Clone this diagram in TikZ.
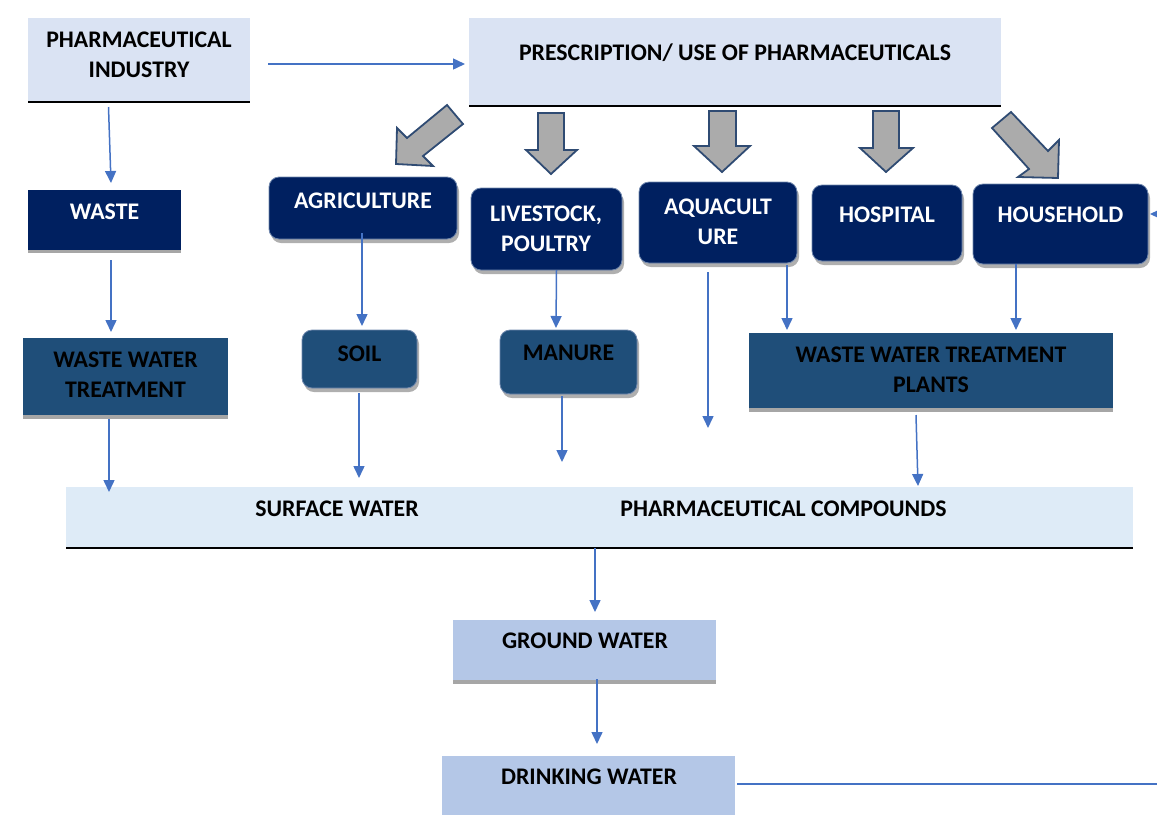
\documentclass[tikz,border=0pt]{standalone}
\usepackage{fontspec}
\setmainfont{Carlito}
\usetikzlibrary{calc,fit,shadows,arrows.meta}
\definecolor{navy}{HTML}{002060}
\definecolor{midblue}{HTML}{1F4E79}
\definecolor{paleblue}{HTML}{DAE3F3}
\definecolor{barblue}{HTML}{DEEBF7}
\definecolor{gwblue}{HTML}{B4C7E7}
\definecolor{connblue}{HTML}{4472C4}
\definecolor{arrgray}{HTML}{ABABAB}
\definecolor{arredge}{HTML}{2F4B73}
\definecolor{shadowgray}{HTML}{A6A6A6}
\definecolor{roundedge}{HTML}{6F87AD}
\begin{document}
\begin{tikzpicture}[x=0.5pt,y=-0.5pt,
  base/.style={inner sep=0pt, outer sep=0pt},
  lightrect/.style={base, fill=paleblue},
  barrect/.style={base, fill=barblue},
  navyrect/.style={base, fill=navy, drop shadow={shadow xshift=0pt, shadow yshift=-1.5pt, fill=shadowgray, opacity=1}},
  midrect/.style={base, fill=midblue, drop shadow={shadow xshift=0pt, shadow yshift=-2pt, fill=shadowgray, opacity=1}},
  gwrect/.style={base, fill=gwblue, drop shadow={shadow xshift=0pt, shadow yshift=-2pt, fill=shadowgray, opacity=1}},
  dwrect/.style={base, fill=gwblue},
  navyround/.style={base, fill=navy, rounded corners=5pt, draw=roundedge, line width=0.4pt, drop shadow={shadow xshift=1pt, shadow yshift=-2pt, fill=shadowgray, opacity=0.9}},
  midround/.style={base, fill=midblue, rounded corners=5pt, draw=roundedge, line width=0.4pt, drop shadow={shadow xshift=1pt, shadow yshift=-2pt, fill=shadowgray, opacity=0.9}},
  botline/.style={draw=black, line width=1pt},
  txtk/.style={inner sep=0pt, align=center, font=\fontsize{11.9}{15}\selectfont\bfseries, text=black},
  txtw/.style={txtk, text=white},
  conn/.style={draw=connblue, line width=0.75pt, -{Triangle[length=6pt,width=5.5pt]}},
  plainconn/.style={draw=connblue, line width=0.75pt},
  blockarrow/.style={fill=arrgray, draw=arredge, line width=0.9pt, line join=miter}
]
\useasboundingbox (0,0) rectangle (1157,815);

% --- boxes ---
\node[lightrect, fit={(28,18)(250,102)}] (ind) {};
\draw[botline] (ind.south west) -- (ind.south east);
\node[txtk] (tind) at (139,55) {PHARMACEUTICAL\\INDUSTRY};

\node[lightrect, fit={(469,18)(1001,106)}] (presc) {};
\draw[botline] (presc.south west) -- (presc.south east);
\node[txtk] (tpresc) at (735,53) {PRESCRIPTION/ USE OF PHARMACEUTICALS};

\node[navyrect, fit={(28,190)(181,250)}] (waste) {};
\node[txtw] (twaste) at (104.5,212) {WASTE};

\node[midrect, fit={(23,338)(228,415)}] (wwt) {};
\node[txtk] (twwt) at (125.5,375) {WASTE WATER\\TREATMENT};

\node[navyround, fit={(269,177)(457,239)}] (agri) {};
\node[txtw] (tagri) at (363,201) {AGRICULTURE};

\node[navyround, fit={(471,188)(622,270)}] (liv) {};
\node[txtw] (tliv) at (546,229) {LIVESTOCK,\\POULTRY};

\node[navyround, fit={(639,182)(797,263)}] (aqua) {};
\node[txtw] (taqua) at (718,222) {AQUACULT\\URE};

\node[navyround, fit={(812,185)(962,261)}] (hosp) {};
\node[txtw] (thosp) at (887,215) {HOSPITAL};

\node[navyround, fit={(973,184)(1148,264)}] (house) {};
\node[txtw] (thouse) at (1060.5,215) {HOUSEHOLD};

\node[midround, fit={(302,330)(417,388)}] (soil) {};
\node[txtk] (tsoil) at (359.5,354) {SOIL};

\node[midround, fit={(500,330)(637,394)}] (manure) {};
\node[txtk] (tmanure) at (568.5,353) {MANURE};

\node[midrect, fit={(749,333)(1113,408)}] (wwtp) {};
\node[txtk] (twwtp) at (931,370) {WASTE WATER TREATMENT\\PLANTS};

\node[barrect, fit={(66,487)(1133,548)}] (sw) {};
\draw[botline] (sw.south west) -- (sw.south east);
\node[txtk] (tsw) at (337,509) {SURFACE WATER};
\node[txtk] (tpc) at (783.5,509) {PHARMACEUTICAL COMPOUNDS};

\node[gwrect, fit={(453,620)(716,680)}] (gw) {};
\node[txtk] (tgw) at (585,641) {GROUND WATER};

\node[dwrect, fit={(442,756)(735,815)}] (dw) {};
\node[txtk] (tdw) at (589,777) {DRINKING WATER};

% --- block arrows ---
\draw[blockarrow] (447,105) -- (407,138) -- (397,128) -- (396,164) -- (433,166) -- (423,156) -- (463,124) -- cycle;
\draw[blockarrow] (538,113) -- (564,113) -- (564,150) -- (577,150) -- (551,174) -- (526,150) -- (538,150) -- cycle;
\draw[blockarrow] (709,111) -- (736,111) -- (736,146) -- (750,146) -- (722,172) -- (694,146) -- (709,146) -- cycle;
\draw[blockarrow] (873,111) -- (899,111) -- (899,148) -- (913,148) -- (886,172) -- (860,148) -- (873,148) -- cycle;
\draw[blockarrow] (1011,112) -- (1048,151) -- (1059,140) -- (1058,178) -- (1018,177) -- (1029,169) -- (992,128) -- cycle;

% --- free ends ---
\coordinate (soilend) at (359,478);
\coordinate (manureend) at (562,462);
\coordinate (aquaend) at (708,428);
\coordinate (dwend) at (1157,784);
\coordinate (hhin) at (1157,214);

% --- connectors ---
\draw[conn] ($(ind.east)+(18,4)$) -- ($(presc.west)+(-4,2)$);
\draw[conn] ($(ind.south)+(-30.5,5)$) -- ($(waste.north)+(6.5,-7)$);
\draw[conn] ($(waste.south)+(6.5,10)$) -- ($(wwt.north)+(-14.5,-6)$);
\draw[conn] ($(wwt.south)+(-16.5,4)$) -- ($(sw.north west)+(43,5)$);
\draw[conn] ($(agri.south)+(-1,-6)$) -- ($(soil.north)+(2.5,-4)$);
\draw[conn] ($(soil.south)+(-0.5,5)$) -- (soilend);
\draw[conn] ($(liv.south)+(10,0)$) -- ($(manure.north)+(-12.5,-2)$);
\draw[conn] ($(manure.south)+(-6.5,2)$) -- (manureend);
\draw[conn] ($(aqua.south)+(-10,9)$) -- (aquaend);
\draw[conn] ($(aqua.south east)+(-10,2)$) -- ($(wwtp.north west)+(38,-3)$);
\draw[conn] ($(house.south)+(-44.5,0)$) -- ($(wwtp.north west)+(267,-3)$);
\draw[conn] ($(wwtp.south)+(-15,7)$) -- ($(sw.north west)+(852,-1)$);
\draw[conn] ($(sw.south)+(-4.5,0)$) -- ($(gw.north)+(10.5,-8)$);
\draw[conn] ($(gw.south)+(12.5,-1)$) -- ($(dw.north)+(8.5,-12)$);
\draw[plainconn] ($(dw.east)+(2,-1.5)$) -- (dwend);
\draw[conn] (hhin) -- ($(house.east)+(2,-10)$);
\end{tikzpicture}
\end{document}
